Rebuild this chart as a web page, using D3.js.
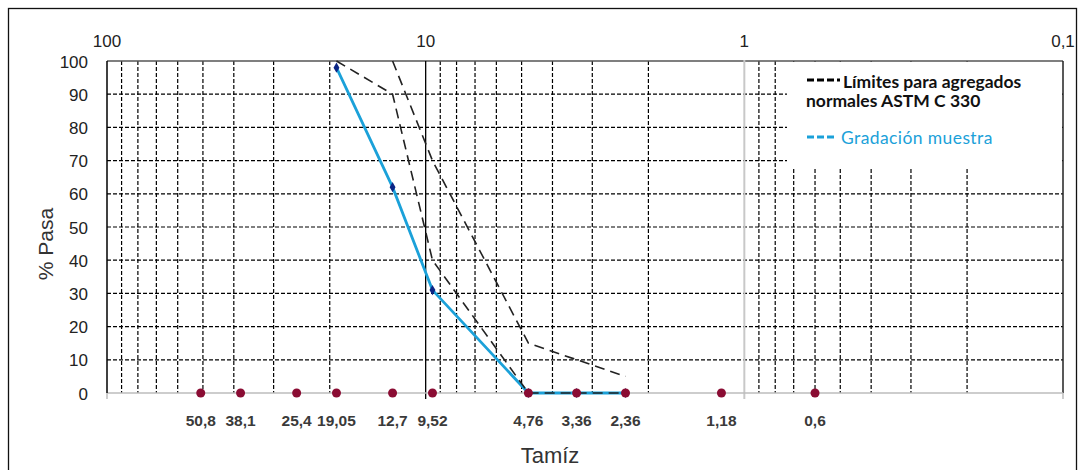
<!DOCTYPE html>
<html>
<head>
<meta charset="utf-8">
<script src="https://cdn.jsdelivr.net/npm/d3@7"></script>
<style>
  body { margin: 0; background: #fff; }
  svg { display: block; font-family: "Liberation Sans", Arial, sans-serif; }
</style>
</head>
<body>
<svg id="chart" width="1083" height="470"></svg>
<script>
// sieve openings (mm) and their labels along the bottom
const sieves = [50.8, 38.1, 25.4, 19.05, 12.7, 9.52, 4.76, 3.36, 2.36, 1.18, 0.6];
const sieveLabels = ['50,8', '38,1', '25,4', '19,05', '12,7', '9,52', '4,76', '3,36', '2,36', '1,18', '0,6'];

// sample gradation
const sampleSize = [19.05, 12.7, 9.52, 4.76, 3.36, 2.36];
const samplePass = [98, 62, 31, 0, 0, 0];

// ASTM limits
const upperSize = [12.7, 9.52, 4.76, 2.36];
const upperPass = [100, 70, 15, 5];
const lowerSize = [19.05, 12.7, 9.52, 4.76, 2.36];
const lowerPass = [100, 90, 40, 0, 0];

const topTicks = [100, 10, 1, 0.1];
const topTickLabels = ['100', '10', '1', '0,1'];
const yTicks = [0, 10, 20, 30, 40, 50, 60, 70, 80, 90, 100];

const svg = d3.select('#chart');
const m = { left: 107, right: 1063, top: 61, bottom: 393 };

const x = d3.scaleLog().domain([100, 0.1]).range([m.left, m.right]);
const y = d3.scaleLinear().domain([0, 100]).range([m.bottom, m.top]);

// outer frame
svg.append('rect')
  .attr('x', 8.5).attr('y', 8.5).attr('width', 1068).attr('height', 480)
  .attr('fill', 'none').attr('stroke', '#111').attr('stroke-width', 1.3);

// minor vertical gridlines
const minor = [];
[10, 1, 0.1].forEach(d => { for (let k = 2; k <= 9; k++) minor.push(+(d * k).toPrecision(3)); });

const grid = svg.append('g');
grid.selectAll('line.v')
  .data(minor)
  .join('line')
  .attr('x1', d => x(d)).attr('x2', d => x(d))
  .attr('y1', m.top).attr('y2', m.bottom)
  .attr('stroke', '#000').attr('stroke-width', 1.2)
  .attr('stroke-dasharray', '4,2');

grid.selectAll('line.h')
  .data(yTicks.filter(d => d > 0 && d < 100))
  .join('line')
  .attr('x1', m.left).attr('x2', m.right)
  .attr('y1', d => y(d)).attr('y2', d => y(d))
  .attr('stroke', '#000').attr('stroke-width', 1.2)
  .attr('stroke-dasharray', '4,2');

// frame of plot area
svg.append('line')
  .attr('x1', m.left).attr('x2', m.right).attr('y1', m.top).attr('y2', m.top)
  .attr('stroke', '#555').attr('stroke-width', 1.5);
svg.append('line')
  .attr('x1', m.right).attr('x2', m.right).attr('y1', m.top).attr('y2', m.bottom)
  .attr('stroke', '#222').attr('stroke-width', 1.5);

// major verticals: 10 black, 1 light gray
svg.append('line')
  .attr('x1', x(10)).attr('x2', x(10)).attr('y1', m.top).attr('y2', m.bottom + 6)
  .attr('stroke', '#000').attr('stroke-width', 1.3);
svg.append('line')
  .attr('x1', x(1)).attr('x2', x(1)).attr('y1', m.top - 1).attr('y2', m.bottom + 6)
  .attr('stroke', '#c8c8c8').attr('stroke-width', 2);

// bottom axis (gray) with ticks
svg.append('line')
  .attr('x1', m.left).attr('x2', m.right).attr('y1', m.bottom).attr('y2', m.bottom)
  .attr('stroke', '#bdbdbd').attr('stroke-width', 1.5);
svg.selectAll('line.bt')
  .data([100, 0.1])
  .join('line')
  .attr('x1', d => x(d)).attr('x2', d => x(d))
  .attr('y1', m.bottom).attr('y2', m.bottom + 6)
  .attr('stroke', '#bdbdbd').attr('stroke-width', 1.5);

// left axis
svg.append('line')
  .attr('x1', m.left).attr('x2', m.left).attr('y1', m.top).attr('y2', m.bottom)
  .attr('stroke', '#000').attr('stroke-width', 1.5);

// y labels
svg.selectAll('text.yl')
  .data(yTicks)
  .join('text')
  .attr('x', 88).attr('y', d => y(d) + 6.5)
  .attr('text-anchor', 'end')
  .attr('font-size', 17).attr('fill', '#222')
  .text(d => d);

svg.append('text')
  .attr('transform', 'translate(53,244) rotate(-90)')
  .attr('text-anchor', 'middle')
  .attr('font-size', 21).attr('fill', '#333')
  .text('% Pasa');

// top labels
svg.selectAll('text.tl')
  .data(topTicks)
  .join('text')
  .attr('x', d => x(d)).attr('y', 46.5)
  .attr('text-anchor', 'middle')
  .attr('font-size', 17).attr('fill', '#222')
  .text((d, i) => topTickLabels[i]);

// legend box (covers gridlines)
svg.append('rect')
  .attr('x', 787).attr('y', m.top + 1).attr('width', m.right - 788).attr('height', 106)
  .attr('fill', '#fff');

const line = d3.line().x(d => x(d[0])).y(d => y(d[1]));

// sample gradation
svg.append('path')
  .datum(d3.zip(sampleSize, samplePass))
  .attr('d', line)
  .attr('fill', 'none').attr('stroke', '#1ba1d9').attr('stroke-width', 2.8);

svg.selectAll('path.mk')
  .data(d3.zip(sampleSize, samplePass))
  .join('path')
  .attr('d', d3.symbol(d3.symbolDiamond, 30))
  .attr('transform', d => `translate(${x(d[0])},${y(d[1])})`)
  .attr('fill', '#0b2585');

// limit curves
[[upperSize, upperPass], [lowerSize, lowerPass]].forEach(([s, p]) => {
  svg.append('path')
    .datum(d3.zip(s, p))
    .attr('d', line)
    .attr('fill', 'none').attr('stroke', '#222').attr('stroke-width', 1.6)
    .attr('stroke-dasharray', '10,6');
});

// sieve dots
svg.selectAll('circle.sv')
  .data(sieves)
  .join('circle')
  .attr('cx', d => x(d)).attr('cy', y(0))
  .attr('r', 4.5)
  .attr('fill', '#8a0c33');

svg.selectAll('text.sl')
  .data(sieves)
  .join('text')
  .attr('x', d => x(d)).attr('y', 426)
  .attr('text-anchor', 'middle')
  .attr('font-size', 15.5).attr('font-weight', 'bold').attr('fill', '#3a3a3a')
  .text((d, i) => sieveLabels[i]);

svg.append('text')
  .attr('x', 550).attr('y', 463)
  .attr('text-anchor', 'middle')
  .attr('font-size', 22).attr('fill', '#333')
  .text('Tamíz');

// legend
const leg = svg.append('g')
  .attr('font-family', 'Lato, "Open Sans", sans-serif')
  .attr('font-size', 17.5);
leg.append('line')
  .attr('x1', 807).attr('x2', 840).attr('y1', 80).attr('y2', 80)
  .attr('stroke', '#000').attr('stroke-width', 3).attr('stroke-dasharray', '7,3');
leg.append('text').attr('x', 843).attr('y', 88).attr('fill', '#111').attr('font-weight', 'bold')
  .text('Límites para agregados');
leg.append('text').attr('x', 806).attr('y', 107).attr('fill', '#111').attr('font-weight', 'bold')
  .text('normales ASTM C 330');
leg.append('line')
  .attr('x1', 807).attr('x2', 834).attr('y1', 137).attr('y2', 137)
  .attr('stroke', '#1ba1d9').attr('stroke-width', 3).attr('stroke-dasharray', '7,3');
leg.append('text').attr('x', 841).attr('y', 144).attr('fill', '#1ba1d9').attr('letter-spacing', 0.4)
  .text('Gradación muestra');
</script>
</body>
</html>
